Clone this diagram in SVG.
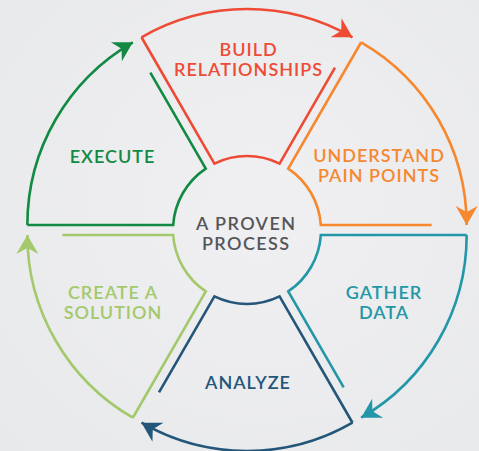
<svg xmlns="http://www.w3.org/2000/svg" width="479" height="451" viewBox="0 0 479 451">
<defs>
<radialGradient id="bg" cx="0.55" cy="0.45" r="0.75">
<stop offset="0" stop-color="#F0F0F2"/>
<stop offset="1" stop-color="#E8E9EB"/>
</radialGradient>
<marker id="aR" viewBox="-20 -12 21 24" refX="0" refY="0" markerWidth="21" markerHeight="24" markerUnits="userSpaceOnUse" orient="auto"><path d="M0,0 L-19,-11 L-13,0 L-19,11 Z" fill="#EE4B35"/></marker>
<marker id="aO" viewBox="-20 -12 21 24" refX="0" refY="0" markerWidth="21" markerHeight="24" markerUnits="userSpaceOnUse" orient="auto"><path d="M0,0 L-19,-11 L-13,0 L-19,11 Z" fill="#F6882F"/></marker>
<marker id="aT" viewBox="-20 -12 21 24" refX="0" refY="0" markerWidth="21" markerHeight="24" markerUnits="userSpaceOnUse" orient="auto"><path d="M0,0 L-19,-11 L-13,0 L-19,11 Z" fill="#2397A8"/></marker>
<marker id="aB" viewBox="-20 -12 21 24" refX="0" refY="0" markerWidth="21" markerHeight="24" markerUnits="userSpaceOnUse" orient="auto"><path d="M0,0 L-19,-11 L-13,0 L-19,11 Z" fill="#24567A"/></marker>
<marker id="aL" viewBox="-20 -12 21 24" refX="0" refY="0" markerWidth="21" markerHeight="24" markerUnits="userSpaceOnUse" orient="auto"><path d="M0,0 L-19,-11 L-13,0 L-19,11 Z" fill="#A3C96C"/></marker>
<marker id="aG" viewBox="-20 -12 21 24" refX="0" refY="0" markerWidth="21" markerHeight="24" markerUnits="userSpaceOnUse" orient="auto"><path d="M0,0 L-19,-11 L-13,0 L-19,11 Z" fill="#138A43"/></marker>
</defs>
<style>
.s{fill:none;stroke-width:2.6;stroke-linejoin:miter}
.t{font-family:"Lato","Liberation Sans",sans-serif;font-size:18px;font-weight:600;text-anchor:middle;letter-spacing:1px}
.c{letter-spacing:1.4px}
.r{stroke:#EE4B35}.o{stroke:#F6882F}.te{stroke:#2397A8}.b{stroke:#24567A}.l{stroke:#A3C96C}.g{stroke:#138A43}
</style>
<rect width="479" height="451" fill="url(#bg)"/>
<g id="connectors">
<path class="s r" d="M141.5,37.27 A211,211 0 0 1 352.5,37.27" marker-end="url(#aR)"/>
<path class="s o" d="M361.16,42.27 A211,211 0 0 1 466.66,225" marker-end="url(#aO)"/>
<path class="s te" d="M466.66,235 A211,211 0 0 1 361.16,417.73" marker-end="url(#aT)"/>
<path class="s b" d="M352.5,422.73 A211,211 0 0 1 141.5,422.73" marker-end="url(#aB)"/>
<path class="s l" d="M132.84,417.73 A211,211 0 0 1 27.34,235" marker-end="url(#aL)"/>
<path class="s g" d="M27.34,225 A211,211 0 0 1 132.84,42.27" marker-end="url(#aG)"/>
</g>
<g id="build-relationships">
<path class="s r" d="M335,67.58 L279.58,163.56 A74,74 0 0 0 214.42,163.56 L141.5,37.27"/>
<text class="t" fill="#EE4B35"><tspan x="248.5" y="55.5">BUILD</tspan><tspan x="248.5" y="75.5">RELATIONSHIPS</tspan></text>
</g>
<g id="understand-pain-points">
<path class="s o" d="M431.66,225 L320.83,225 A74,74 0 0 0 288.25,168.56 L361.16,42.27"/>
<text class="t" fill="#F6882F"><tspan x="379" y="162">UNDERSTAND</tspan><tspan x="379" y="182">PAIN POINTS</tspan></text>
</g>
<g id="gather-data">
<path class="s te" d="M343.66,387.42 L288.25,291.44 A74,74 0 0 0 320.83,235 L466.66,235"/>
<text class="t" fill="#2397A8"><tspan x="384" y="298.5">GATHER</tspan><tspan x="384" y="318.5">DATA</tspan></text>
</g>
<g id="analyze">
<path class="s b" d="M159,392.42 L214.42,296.44 A74,74 0 0 0 279.58,296.44 L352.5,422.73"/>
<text class="t" x="248" y="388.5" fill="#24567A">ANALYZE</text>
</g>
<g id="create-a-solution">
<path class="s l" d="M62.34,235 L173.17,235 A74,74 0 0 0 205.76,291.44 L132.84,417.73"/>
<text class="t" fill="#A3C96C"><tspan x="113" y="298.5">CREATE A</tspan><tspan x="113" y="318.5">SOLUTION</tspan></text>
</g>
<g id="execute">
<path class="s g" d="M150.34,72.58 L205.76,168.56 A74,74 0 0 0 173.17,225 L27.34,225"/>
<text class="t" x="112.5" y="162.5" fill="#138A43">EXECUTE</text>
</g>
<g id="center">
<text class="t c" fill="#555659"><tspan x="246.2" y="229.5">A PROVEN</tspan><tspan x="246.2" y="249.5">PROCESS</tspan></text>
</g>
</svg>
